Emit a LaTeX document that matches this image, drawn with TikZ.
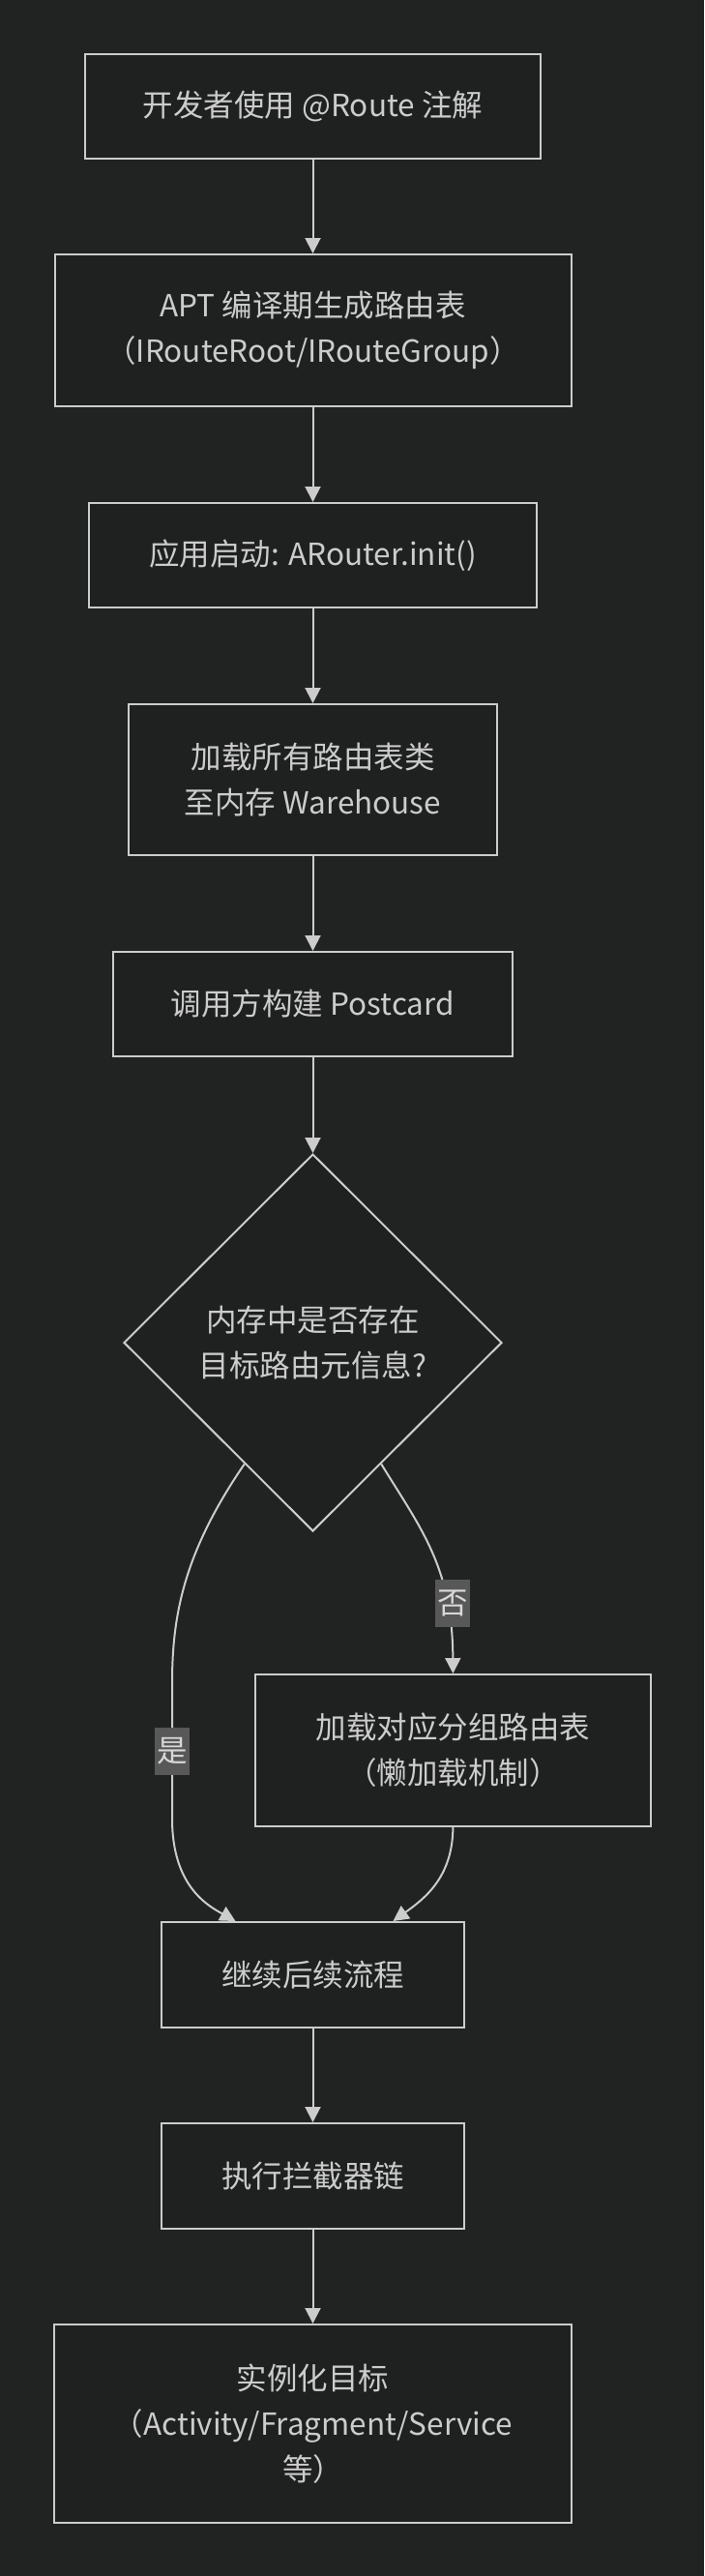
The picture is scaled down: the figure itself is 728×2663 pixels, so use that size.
\documentclass[tikz,border=0pt]{standalone}
\usepackage{fontspec}
\setmainfont{Noto Sans CJK SC}
\usetikzlibrary{shapes.geometric,arrows.meta,calc}
\definecolor{bg}{HTML}{212222}
\definecolor{nodefill}{HTML}{1F2020}
\definecolor{linec}{HTML}{CCCCCC}
\definecolor{textc}{HTML}{CCCCCC}
\definecolor{lblbg}{HTML}{585858}
\definecolor{lbltext}{HTML}{D8D8D8}
\begin{document}
\begin{tikzpicture}[x=1pt,y=-1pt,
  mainfont/.style={font=\fontsize{31.5pt}{47pt}\selectfont},
  box/.style={draw=linec, fill=nodefill, line width=2pt, text=textc, align=center, inner sep=0pt, mainfont},
  dec/.style={box, diamond, aspect=1},
  conn/.style={draw=linec, line width=2pt, -{Triangle[width=16pt,length=16pt]}},
  elabel/.style={fill=lblbg, text=lbltext, inner xsep=2pt, inner ysep=0pt, minimum height=49pt, mainfont}
]
\path[fill=bg] (0,0) rectangle (728,2663);
\useasboundingbox (0,0) rectangle (728,2663);

\node[box, minimum width=471pt, minimum height=108pt] (n1) at (323.5,110) {开发者使用 @Route 注解};
\node[box, minimum width=534pt, minimum height=157pt] (n2) at (323.5,341.5) {APT 编译期生成路由表\\（IRouteRoot/IRouteGroup）};
\node[box, minimum width=463pt, minimum height=108pt] (n3) at (323.5,574) {应用启动: ARouter.init()};
\node[box, minimum width=381pt, minimum height=156pt] (n4) at (323.5,806) {加载所有路由表类\\至内存 Warehouse};
\node[box, minimum width=413pt, minimum height=108pt] (n5) at (323.5,1038) {调用方构建 Postcard};
\node[dec, minimum width=391pt, minimum height=390pt] (d) at (323.5,1388) {内存中是否存在\\目标路由元信息?};
\node[box, minimum width=409pt, minimum height=157pt] (n6) at (468.4,1809.5) {加载对应分组路由表\\（懒加载机制）};
\node[box, minimum width=313pt, minimum height=109pt] (n7) at (323.5,2041.5) {继续后续流程};
\node[box, minimum width=313pt, minimum height=109pt] (n8) at (323.5,2249.5) {执行拦截器链};
\node[box, minimum width=535pt, minimum height=205pt] (n9) at (323.5,2505.5) {实例化目标\\（Activity/Fragment/Service\\等）};

\coordinate (yesstart) at ($(d.west)!0.64!(d.south)$);
\coordinate (nostart) at ($(d.east)!0.64!(d.south)$);

\draw[conn] (n1.south) -- (n2.north);
\draw[conn] (n2.south) -- (n3.north);
\draw[conn] (n3.south) -- (n4.north);
\draw[conn] (n4.south) -- (n5.north);
\draw[conn] (n5.south) -- (d.north);
\draw[conn] (yesstart) .. controls (190,1605) and (178,1670) .. (178,1740) -- node[elabel] {是} (178,1880) .. controls (178,1950) and (215,1970) .. ([xshift=-80pt]n7.north);
\draw[conn] (nostart) .. controls (435,1580) and (468,1620) .. (n6.north) node[elabel] at (468,1657) {否};
\draw[conn] (n6.south) .. controls (468,1940) and (440,1962) .. ([xshift=83pt]n7.north);
\draw[conn] (n7.south) -- (n8.north);
\draw[conn] (n8.south) -- (n9.north);
\end{tikzpicture}
\end{document}
